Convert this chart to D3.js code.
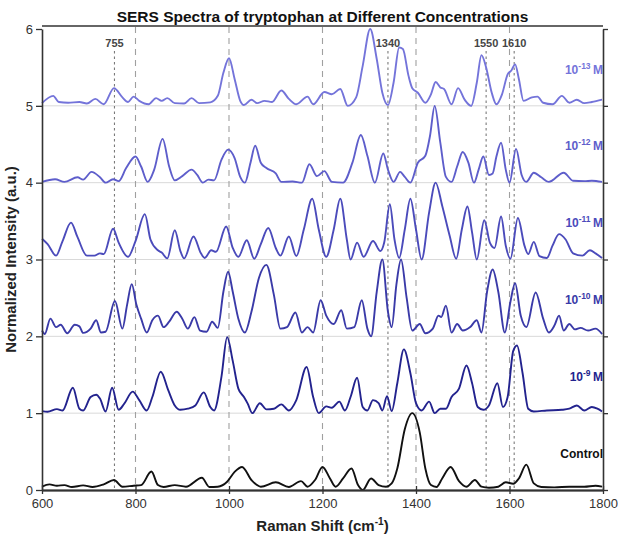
<!DOCTYPE html>
<html>
<head>
<meta charset="utf-8">
<script src="https://cdn.jsdelivr.net/npm/d3@7"></script>
<style>
  html, body { margin: 0; padding: 0; background: #fff; }
  svg { display: block; font-family: "Liberation Sans", Arial, Helvetica, sans-serif; }
</style>
</head>
<body>
<svg id="chart" width="618" height="537"></svg>
<script>
// ---- data -------------------------------------------------------------
// Series labels (bottom to top); each spectrum is normalised to [0,1] and
// stacked with an offset equal to its index.
const seriesNames = ["Control", "10^-9", "10^-10", "10^-11", "10^-12", "10^-13"];
const seriesColors = ["#111111", "#23238e", "#3a3aa8", "#4b4bbb", "#5e5ecb", "#7474da"];

// Spectra as [Raman shift (cm-1), normalised intensity] knots
const specControl = [[600,0.043],[616,0.073],[632,0.056],[648,0.064],[664,0.039],[688,0.06],[708,0.039],[732,0.073],[754,0.13],[772,0.043],[796,0.056],[812,0.064],[834,0.24],[848,0.064],[860,0.039],[884,0.064],[908,0.043],[942,0.16],[958,0.039],[976,0.043],[996,0.107],[1012,0.236],[1028,0.3],[1048,0.13],[1068,0.043],[1100,0.1],[1128,0.039],[1154,0.116],[1168,0.043],[1184,0.13],[1200,0.3],[1216,0.15],[1228,0.043],[1244,0.15],[1262,0.28],[1276,0.064],[1286,0.0],[1304,0.15],[1320,0.064],[1336,0.043],[1348,0.086],[1360,0.28],[1376,0.79],[1392,1.0],[1408,0.75],[1420,0.28],[1432,0.064],[1444,0.039],[1456,0.15],[1474,0.3],[1492,0.116],[1508,0.043],[1526,0.13],[1540,0.043],[1556,0.03],[1576,0.043],[1592,0.1],[1608,0.082],[1620,0.15],[1636,0.33],[1652,0.086],[1668,0.039],[1696,0.034],[1728,0.043],[1760,0.043],[1784,0.056],[1798,0.043]];

const spec9 = [[600,0.027],[612,0.018],[632,0.053],[644,0.035],[666,0.33],[680,0.058],[688,0.035],[704,0.21],[716,0.24],[724,0.19],[736,0.022],[750,0.33],[764,0.044],[776,0.124],[794,0.28],[808,0.17],[824,0.035],[836,0.21],[854,0.54],[870,0.30],[884,0.10],[896,0.044],[912,0.058],[928,0.10],[946,0.27],[960,0.08],[968,0.035],[984,0.48],[996,0.99],[1008,0.68],[1020,0.32],[1032,0.21],[1040,0.124],[1050,0.0],[1066,0.13],[1080,0.05],[1096,0.058],[1112,0.115],[1128,0.035],[1144,0.17],[1166,0.6],[1180,0.21],[1192,0.0],[1208,0.088],[1220,0.07],[1236,0.15],[1248,0.035],[1260,0.21],[1274,0.46],[1286,0.08],[1296,0.035],[1308,0.17],[1320,0.13],[1328,0.035],[1338,0.22],[1348,0.027],[1360,0.39],[1374,0.83],[1388,0.52],[1400,0.13],[1412,0.035],[1428,0.15],[1440,0.0],[1452,0.058],[1464,0.058],[1476,0.21],[1492,0.32],[1508,0.62],[1520,0.39],[1532,0.08],[1544,0.044],[1556,0.1],[1574,0.39],[1586,0.08],[1596,0.21],[1608,0.81],[1616,0.88],[1628,0.52],[1640,0.058],[1652,0.022],[1680,0.035],[1712,0.044],[1728,0.058],[1744,0.1],[1760,0.035],[1776,0.08],[1788,0.058],[1798,0.022]];

const spec10 = [[600,0.075],[606,0.03],[618,0.23],[630,0.12],[640,0.15],[654,0.04],[670,0.15],[680,0.13],[688,0.045],[704,0.1],[716,0.21],[726,0.05],[736,0.06],[756,0.46],[772,0.1],[782,0.41],[792,0.68],[802,0.41],[812,0.23],[824,0.05],[836,0.21],[848,0.27],[860,0.12],[872,0.19],[888,0.32],[900,0.23],[912,0.1],[926,0.25],[938,0.075],[952,0.06],[964,0.19],[976,0.11],[988,0.58],[998,0.84],[1008,0.58],[1020,0.23],[1034,0.05],[1048,0.32],[1064,0.76],[1080,0.93],[1096,0.54],[1110,0.1],[1124,0.12],[1142,0.31],[1156,0.05],[1168,0.12],[1180,0.05],[1196,0.47],[1208,0.27],[1224,0.16],[1240,0.34],[1252,0.1],[1268,0.12],[1284,0.47],[1296,0.1],[1304,0.0],[1316,0.58],[1328,1.0],[1340,0.32],[1348,0.12],[1358,0.67],[1368,1.0],[1380,0.5],[1392,0.075],[1408,0.16],[1420,0.04],[1436,0.1],[1448,0.27],[1454,0.25],[1464,0.4],[1476,0.05],[1488,0.16],[1500,0.075],[1516,0.12],[1530,0.21],[1540,0.05],[1552,0.58],[1564,0.87],[1576,0.58],[1590,0.05],[1602,0.45],[1612,0.69],[1624,0.27],[1636,0.12],[1656,0.57],[1672,0.23],[1684,0.05],[1696,0.14],[1706,0.27],[1716,0.075],[1728,0.16],[1740,0.09],[1752,0.11],[1768,0.075],[1784,0.1],[1798,0.03]];

const spec11 = [[600,0.27],[612,0.2],[630,0.05],[644,0.24],[662,0.48],[676,0.29],[696,0.05],[712,0.05],[724,0.08],[732,0.07],[752,0.40],[764,0.22],[784,0.035],[800,0.24],[820,0.59],[832,0.26],[848,0.12],[856,0.09],[868,0.015],[884,0.38],[896,0.11],[904,0.015],[924,0.3],[940,0.08],[948,0.02],[962,0.12],[972,0.1],[994,0.43],[1008,0.15],[1020,0.035],[1038,0.25],[1054,0.01],[1068,0.2],[1084,0.41],[1100,0.15],[1110,0.05],[1128,0.3],[1144,0.045],[1160,0.39],[1178,0.79],[1192,0.39],[1208,0.035],[1224,0.39],[1238,0.79],[1252,0.26],[1260,0.0],[1274,0.22],[1288,0.035],[1308,0.24],[1324,0.11],[1332,0.22],[1344,0.72],[1354,0.26],[1364,0.02],[1376,0.39],[1388,0.79],[1400,0.39],[1412,0.0],[1428,0.61],[1442,1.0],[1456,0.7],[1472,0.31],[1486,0.01],[1498,0.39],[1510,0.69],[1520,0.35],[1530,0.0],[1546,0.51],[1558,0.22],[1568,0.15],[1582,0.56],[1592,0.18],[1602,0.01],[1618,0.54],[1632,0.18],[1640,0.07],[1652,0.23],[1664,0.045],[1680,0.02],[1692,0.18],[1706,0.33],[1720,0.26],[1736,0.08],[1756,0.05],[1772,0.12],[1784,0.08],[1798,0.02]];

const spec12 = [[600,0.01],[628,0.045],[648,0.01],[676,0.07],[688,0.04],[706,0.14],[724,0.07],[736,0.0],[752,0.045],[764,0.02],[780,0.19],[800,0.34],[812,0.21],[826,0.01],[840,0.17],[858,0.57],[872,0.21],[884,0.03],[900,0.085],[920,0.17],[932,0.1],[944,0.0],[956,0.04],[968,0.03],[984,0.3],[998,0.43],[1012,0.32],[1024,0.075],[1034,0.0],[1046,0.26],[1056,0.48],[1068,0.26],[1080,0.19],[1100,0.12],[1112,0.01],[1136,0.015],[1156,0.0],[1172,0.24],[1188,0.085],[1204,0.15],[1220,0.01],[1244,0.0],[1264,0.26],[1282,0.62],[1296,0.35],[1312,0.0],[1330,0.38],[1340,0.17],[1352,0.01],[1366,0.14],[1376,0.075],[1388,0.0],[1404,0.26],[1420,0.35],[1430,0.61],[1440,1.0],[1452,0.52],[1464,0.075],[1476,0.01],[1488,0.21],[1500,0.4],[1512,0.26],[1524,0.0],[1534,0.17],[1544,0.34],[1556,0.1],[1564,0.12],[1572,0.34],[1582,0.52],[1592,0.17],[1600,0.0],[1614,0.44],[1626,0.1],[1636,0.01],[1652,0.13],[1668,0.07],[1684,0.01],[1716,0.13],[1736,0.025],[1760,0.02],[1776,0.025],[1798,0.01]];

const spec13 = [[600,0.035],[624,0.13],[636,0.05],[656,0.04],[680,0.05],[696,0.03],[714,0.09],[732,0.02],[754,0.23],[772,0.11],[784,0.05],[796,0.12],[808,0.065],[828,0.02],[844,0.1],[856,0.065],[868,0.1],[884,0.035],[904,0.03],[920,0.1],[936,0.035],[960,0.045],[976,0.13],[988,0.43],[1000,0.62],[1012,0.35],[1024,0.065],[1032,0.01],[1048,0.08],[1060,0.035],[1076,0.065],[1092,0.05],[1112,0.2],[1128,0.09],[1144,0.02],[1168,0.12],[1180,0.02],[1204,0.18],[1220,0.15],[1238,0.22],[1254,0.0],[1272,0.11],[1286,0.52],[1302,1.0],[1316,0.61],[1328,0.17],[1340,0.01],[1352,0.3],[1364,0.76],[1372,0.74],[1384,0.39],[1392,0.23],[1404,0.17],[1420,0.04],[1432,0.15],[1442,0.31],[1452,0.24],[1460,0.22],[1476,0.02],[1490,0.23],[1504,0.08],[1518,0.0],[1530,0.3],[1540,0.66],[1550,0.5],[1562,0.17],[1572,0.02],[1584,0.15],[1596,0.41],[1604,0.46],[1612,0.54],[1620,0.35],[1630,0.065],[1648,0.11],[1660,0.12],[1672,0.04],[1692,0.02],[1712,0.13],[1728,0.04],[1744,0.08],[1760,0.035],[1776,0.05],[1798,0.08]];

const spectra = [specControl, spec9, spec10, spec11, spec12, spec13];

// Marked band positions (dotted, labelled) and reference grid (dashed)
const bandPositions = [755, 1340, 1550, 1610];
const refLines = [800, 1000, 1200, 1400, 1600];
const xTicks = [600, 800, 1000, 1200, 1400, 1600, 1800];
const yTicks = [0, 1, 2, 3, 4, 5, 6];

// ---- layout ---------------------------------------------------------
const svg = d3.select("#chart");
const plotL = 42, plotR = 603, plotT = 29, plotB = 490;

const x = d3.scaleLinear().domain([600, 1800]).range([plotL, plotR]);
const y = d3.scaleLinear().domain([0, 6]).range([plotB, plotT]);

// horizontal baselines of the stacked spectra
svg.append("g").selectAll("line")
  .data(yTicks.filter(d => d > 0 && d < 6))
  .join("line")
  .attr("x1", plotL).attr("x2", plotR)
  .attr("y1", d => y(d)).attr("y2", d => y(d))
  .attr("stroke", "#d9d9d9").attr("stroke-width", 1);

// dashed reference lines
svg.append("g").selectAll("line")
  .data(refLines)
  .join("line")
  .attr("x1", d => x(d)).attr("x2", d => x(d))
  .attr("y1", plotT - 2).attr("y2", plotB)
  .attr("stroke", "#a0a0a0").attr("stroke-width", 1.1)
  .attr("stroke-dasharray", "6,5");

// dotted band markers
svg.append("g").selectAll("line")
  .data(bandPositions)
  .join("line")
  .attr("x1", d => x(d)).attr("x2", d => x(d))
  .attr("y1", 51).attr("y2", plotB)
  .attr("stroke", "#7a7a7a").attr("stroke-width", 1.1)
  .attr("stroke-dasharray", "2.5,3");

// spectra
const line = d3.line()
  .x(d => x(d[0]))
  .y(d => d[1])
  .curve(d3.curveMonotoneX);

svg.append("g").selectAll("path")
  .data(spectra)
  .join("path")
  .attr("d", (s, i) => line(s.map(p => [p[0], y(p[1] + i)])))
  .attr("fill", "none")
  .attr("stroke", (s, i) => seriesColors[i])
  .attr("stroke-width", 1.9)
  .attr("stroke-linejoin", "round");

// band labels
svg.append("g").selectAll("text")
  .data(bandPositions)
  .join("text")
  .attr("x", d => x(d)).attr("y", 47)
  .attr("text-anchor", "middle")
  .attr("font-size", 11).attr("font-weight", "bold")
  .attr("fill", "#454545")
  .text(d => d);

// series labels on the right
const lbl = svg.append("g").selectAll("text")
  .data(seriesNames)
  .join("text")
  .attr("x", plotR)
  .attr("y", (d, i) => y(i + 0.42))
  .attr("text-anchor", "end")
  .attr("font-size", 12).attr("font-weight", "bold")
  .attr("fill", (d, i) => seriesColors[i]);
lbl.each(function(d) {
  const t = d3.select(this);
  if (d.startsWith("10^")) {
    t.append("tspan").text("10");
    t.append("tspan").attr("font-size", 8.5).attr("dy", -5).text(d.slice(3));
    t.append("tspan").attr("dy", 5).text("\u2009M");
  } else {
    t.text(d);
  }
});

// axes
const axisColor = "#333";
const fmt = d3.format("d");
const gx = svg.append("g").attr("transform", `translate(0,${plotB})`)
  .call(d3.axisBottom(x).tickValues(xTicks).tickFormat(fmt).tickSize(4).tickSizeOuter(0).tickPadding(5));
const gxIn = svg.append("g").attr("transform", `translate(0,${plotB})`)
  .call(d3.axisBottom(x).tickValues(xTicks).tickSize(-4).tickSizeOuter(0).tickFormat(""));
const gy = svg.append("g").attr("transform", `translate(${plotL},0)`)
  .call(d3.axisLeft(y).tickValues(yTicks).tickFormat(fmt).tickSize(6).tickSizeOuter(0).tickPadding(3));
const gyR = svg.append("g").attr("transform", `translate(${plotR},0)`)
  .call(d3.axisRight(y).tickValues(yTicks).tickSize(5).tickSizeOuter(0).tickFormat(""));

[gx, gxIn, gy, gyR].forEach(g => {
  g.select(".domain").attr("stroke", axisColor).attr("stroke-width", 1.6);
  g.selectAll(".tick line").attr("stroke", axisColor).attr("stroke-width", 1.3);
  g.selectAll(".tick text").attr("fill", "#333").attr("font-size", 13)
    .attr("font-family", "'Liberation Sans', Arial, sans-serif");
});
gx.select(".domain").attr("stroke-width", 2.2);

// top frame
svg.append("line")
  .attr("x1", plotL).attr("x2", plotR)
  .attr("y1", plotT - 3).attr("y2", plotT - 3)
  .attr("stroke", axisColor).attr("stroke-width", 1.6);

// title
svg.append("text")
  .attr("x", (plotL + plotR) / 2).attr("y", 22)
  .attr("text-anchor", "middle")
  .attr("font-size", 15.5).attr("font-weight", "bold")
  .attr("fill", "#111")
  .text("SERS Spectra of tryptophan at Different Concentrations");

// axis titles
const xt = svg.append("text")
  .attr("x", (plotL + plotR) / 2).attr("y", 531)
  .attr("text-anchor", "middle")
  .attr("font-size", 15).attr("font-weight", "bold")
  .attr("fill", "#222");
xt.append("tspan").text("Raman Shift (cm");
xt.append("tspan").attr("font-size", 10).attr("dy", -6).text("-1");
xt.append("tspan").attr("dy", 6).text(")");

svg.append("text")
  .attr("transform", `translate(16,${(plotT + plotB) / 2}) rotate(-90)`)
  .attr("text-anchor", "middle")
  .attr("font-size", 15).attr("font-weight", "bold")
  .attr("fill", "#222")
  .text("Normalized Intensity (a.u.)");
</script>
</body>
</html>
